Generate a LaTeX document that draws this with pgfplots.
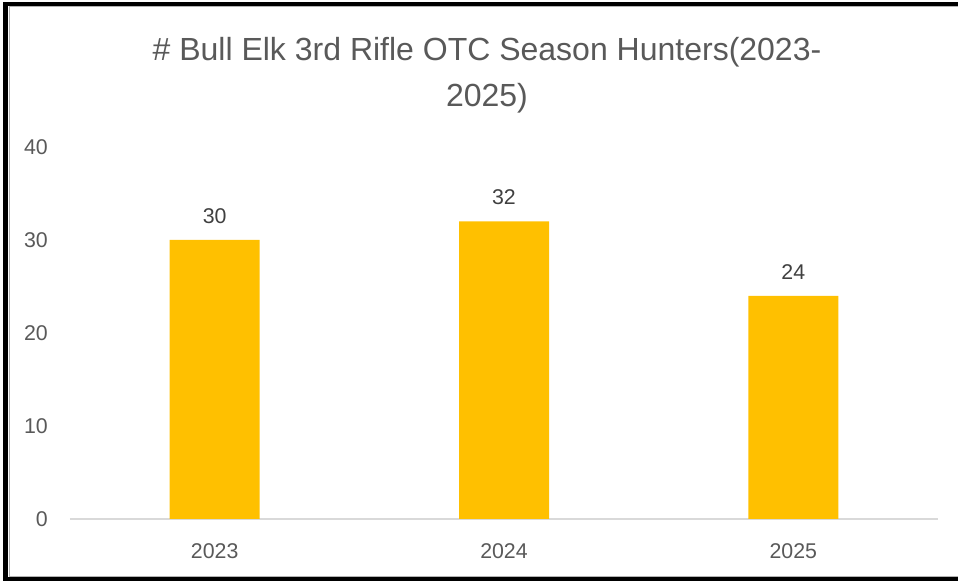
\documentclass[border=0pt]{standalone}
\usepackage{fontspec}
\setmainfont{Liberation Sans}
\usepackage{pgfplots}
\pgfplotsset{compat=1.18}
\definecolor{bargold}{HTML}{FFC000}
\definecolor{txtgray}{HTML}{595959}
\definecolor{lblgray}{HTML}{404040}
\definecolor{axgray}{HTML}{D9D9D9}
\begin{document}
\begin{tikzpicture}
% canvas 958x581 px, 1px = 0.75pt
\path[use as bounding box] (0,0) rectangle (718.5pt,435.75pt);
\fill[black] (2.25pt,434.25pt) rectangle (718.5pt,431.25pt);
\fill[black] (2.25pt,434.25pt) rectangle (6pt,0pt);
\fill[black] (2.25pt,3pt) rectangle (718.5pt,0pt);
\draw[gray!60, line width=0.75pt] (6.75pt,3.5pt) -- (6.75pt,430.8pt) -- (718.5pt,430.8pt);
\draw[gray!60, line width=0.75pt] (6.75pt,3.4pt) -- (718.5pt,3.4pt);

\node[anchor=base, text=txtgray, font=\fontsize{24pt}{28pt}\selectfont, inner sep=0pt]
  at (365.25pt,390pt) {\# Bull Elk 3rd Rifle OTC Season Hunters(2023-};
\node[anchor=base, text=txtgray, font=\fontsize{24pt}{28pt}\selectfont, inner sep=0pt]
  at (365.25pt,355.5pt) {2025)};

\begin{axis}[
    at={(52.5pt,46.5pt)}, anchor=south west,
    width=651pt, height=279pt, scale only axis,
    ybar, bar width=67.5pt,
    xmin=-0.5, xmax=2.5,
    ymin=0, ymax=40,
    xtick=data, xticklabels={2023,2024,2025},
    ytick={0,10,20,30,40},
    major tick length=0pt,
    axis x line=bottom, axis y line=left,
    x axis line style={draw=axgray, line width=1.5pt, -},
    y axis line style={draw=none},
    tick label style={font=\fontsize{16pt}{19pt}\selectfont, text=txtgray},
    /pgf/number format/assume math mode=true,
    xticklabel style={anchor=north, inner sep=0pt, yshift=-18pt},
    yticklabel style={anchor=east, inner sep=0pt, xshift=-16.5pt},
    nodes near coords,
    every node near coord/.append style={anchor=south, inner sep=0pt, yshift=12pt,
        font=\fontsize{16pt}{19pt}\selectfont, text=lblgray},
    clip=false,
]
\addplot[fill=bargold, draw=none] coordinates {(0,30) (1,32) (2,24)};
\end{axis}
\end{tikzpicture}
\end{document}
